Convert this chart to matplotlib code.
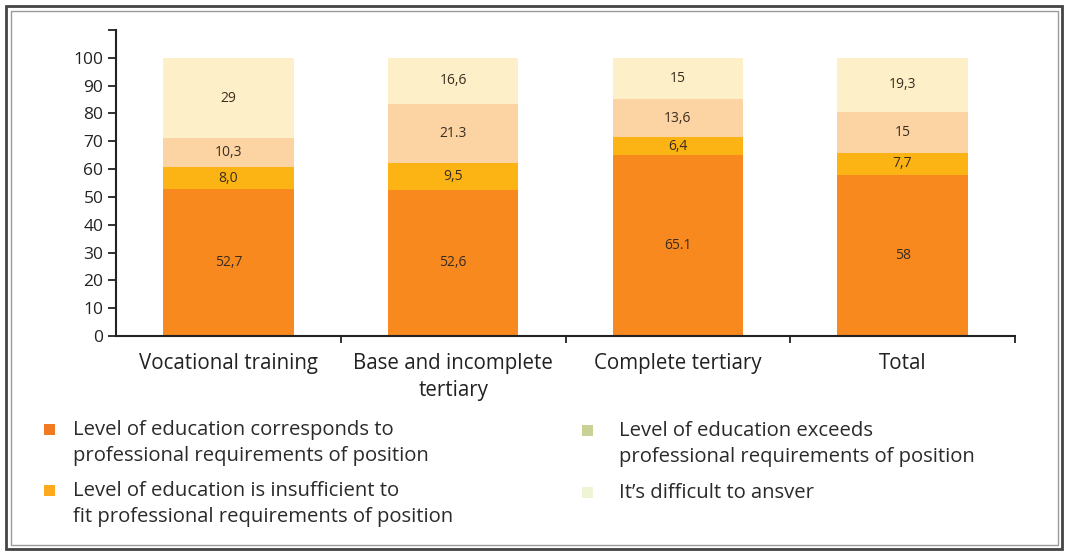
import matplotlib.pyplot as plt
from matplotlib.patches import Rectangle
import numpy as np

plt.rcParams['font.family'] = ['Open Sans', 'DejaVu Sans']

categories = ["Vocational training", "Base and incomplete\ntertiary", "Complete tertiary", "Total"]
corresponds = [52.7, 52.6, 65.1, 58]
insufficient = [8.0, 9.5, 6.4, 7.7]
exceeds = [10.3, 21.3, 13.6, 15]
difficult = [29, 16.6, 15, 19.3]
value_labels = [
    ["52,7", "52,6", "65.1", "58"],
    ["8,0", "9,5", "6,4", "7,7"],
    ["10,3", "21.3", "13,6", "15"],
    ["29", "16,6", "15", "19,3"],
]
legend_labels = [
    "Level of education corresponds to\nprofessional requirements of position",
    "Level of education is insufficient to\nfit professional requirements of position",
    "Level of education exceeds\nprofessional requirements of position",
    "It\u2019s difficult to ansver",
]

bar_colors = ["#F7891F", "#FBB414", "#FCD4A4", "#FDF0C9"]
legend_colors = ["#F07A22", "#FCA91E", "#C9D195", "#EEF4D4"]

W, H = 1066, 554
fig = plt.figure(figsize=(W / 100, H / 100), dpi=100)
ax = fig.add_axes([116 / W, 1 - 336 / H, (1015 - 116) / W, (336 - 30) / H])

x = np.arange(len(categories))
series = [corresponds, insufficient, exceeds, difficult]
bottom = np.zeros(len(categories))
for vals, col, labs in zip(series, bar_colors, value_labels):
    vals = np.array(vals, dtype=float)
    ax.bar(x, vals, bottom=bottom, width=0.58, color=col, linewidth=0)
    for xi, b, v, lab in zip(x, bottom, vals, labs):
        ax.text(xi, b + v / 2, lab, ha="center", va="center",
                fontsize=10, color="#3a2d20")
    bottom += vals

ax.set_xlim(-0.5, 3.5)
ax.set_ylim(0, 110)
ax.set_yticks(np.arange(0, 111, 10))
ax.set_yticklabels([str(v) for v in range(0, 101, 10)] + [""])
ax.set_xticks(x)
ax.set_xticklabels(categories, fontsize=14.8, color="#222222", linespacing=1.4)
ax.set_xticks(np.arange(0.5, 4, 1), minor=True)
ax.tick_params(axis="x", which="major", length=0, pad=12)
ax.tick_params(axis="x", which="minor", length=5, width=1.3, color="#222222")
ax.tick_params(axis="y", length=6, width=1.3, color="#222222", labelsize=12.5,
               labelcolor="#222222", pad=3)
for s in ["top", "right"]:
    ax.spines[s].set_visible(False)
for s in ["left", "bottom"]:
    ax.spines[s].set_linewidth(1.5)
    ax.spines[s].set_color("#222222")

# legend, drawn by hand to keep the two-column layout
# (marker left, marker centre y, text left)
leg_pos = [(44, 429, 73), (44, 490, 73), (582, 430, 619), (582, 492, 619)]
for (mx, my, tx), lab, col in zip(leg_pos, legend_labels, legend_colors):
    fig.add_artist(Rectangle((mx / W, 1 - (my + 5.5) / H), 11 / W, 11 / H,
                             transform=fig.transFigure, color=col, lw=0))
    fig.text(tx / W, 1 - (my - 9) / H, lab, ha="left", va="top",
             fontsize=14.6, color="#2a2a2a", linespacing=1.4)

# double frame around the figure
fig.add_artist(Rectangle((6 / W, 1 - 549 / H), 1056 / W, 543 / H,
                         transform=fig.transFigure, fill=False, ec="#444444", lw=2))
fig.add_artist(Rectangle((11 / W, 1 - 545 / H), 1047 / W, 534 / H,
                         transform=fig.transFigure, fill=False, ec="#9a9a9a", lw=1))

fig.savefig("out.png", dpi=100)
